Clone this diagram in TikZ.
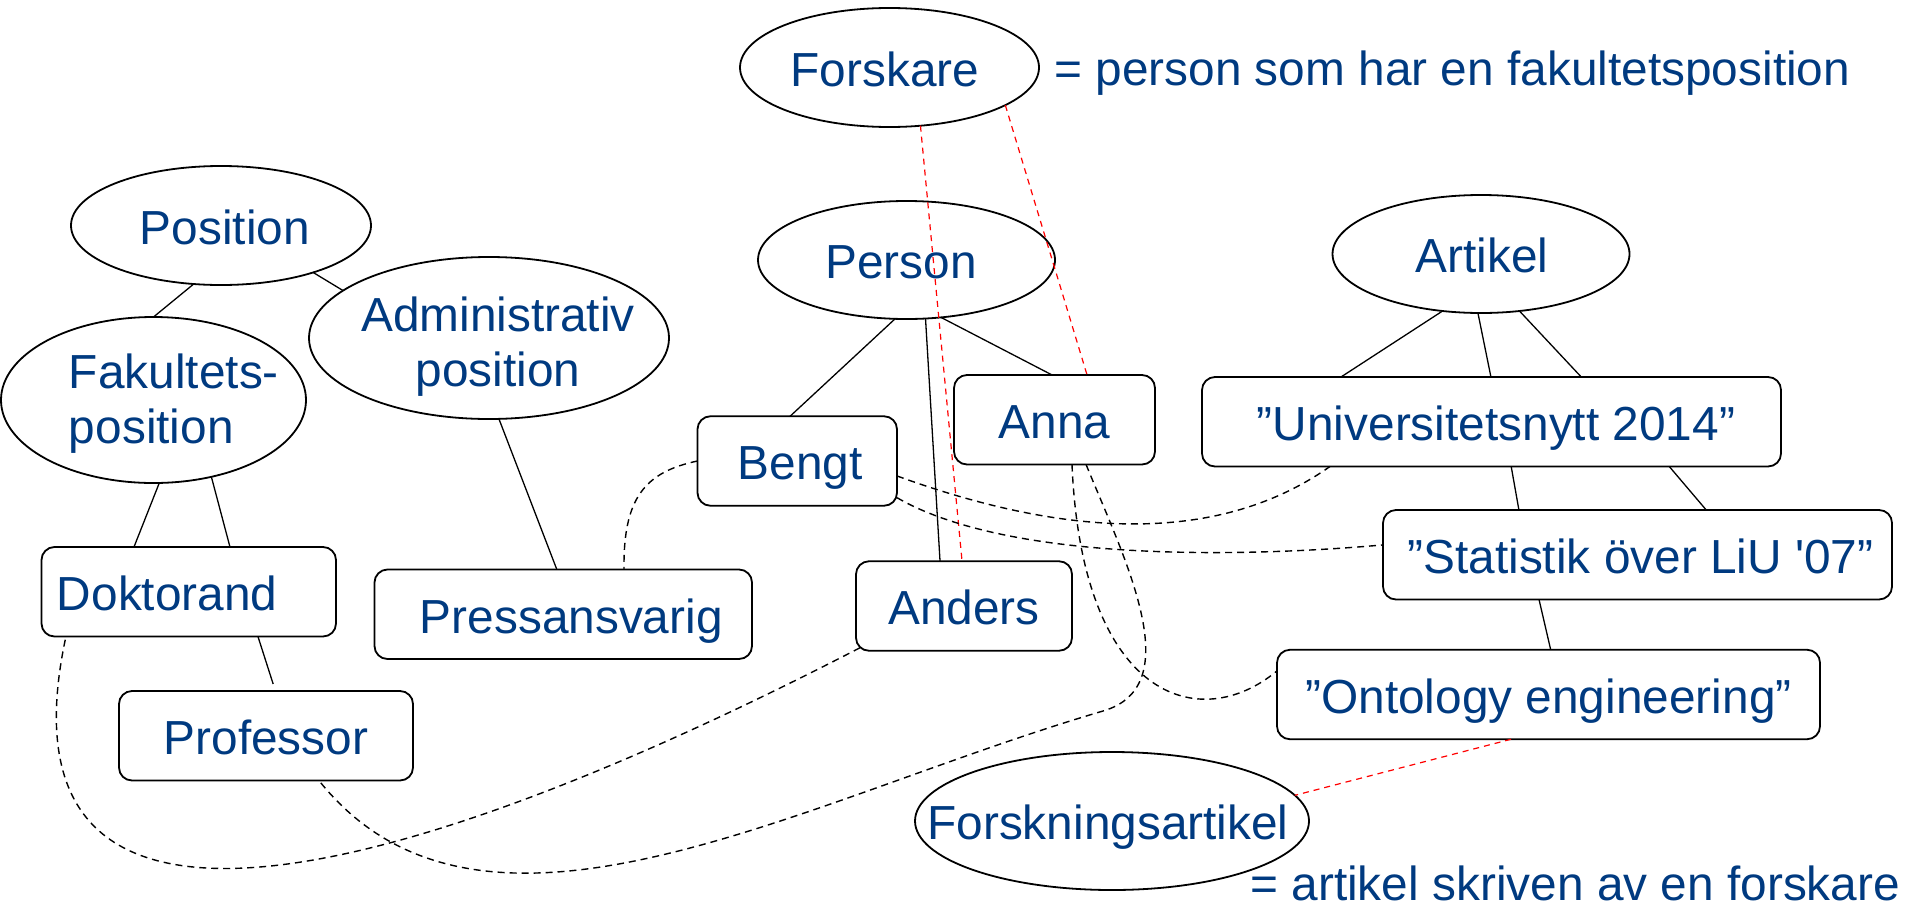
\documentclass[tikz,border=0pt]{standalone}
\usepackage{fontspec}
\setmainfont{Liberation Sans}[Ligatures=TeXOff]
\usetikzlibrary{shapes.geometric,calc}
\definecolor{txtblue}{RGB}{0,58,128}
\newcommand\txtshift[2]{\makebox[0pt]{\hspace*{#1pt}#2}}
\newcommand\bigfont{\fontsize{23.9pt}{27.5pt}\selectfont}
\begin{document}
\begin{tikzpicture}[x=0.5pt,y=-0.5pt,
  ell/.style={draw, ellipse, line width=0.9pt, inner sep=0pt, outer sep=0pt, text=txtblue, font=\bigfont, text height=22.8pt, text depth=4pt},
  rbox/.style={draw, rounded corners=6.5pt, line width=0.9pt, inner sep=0pt, outer sep=0pt, text=txtblue, font=\bigfont, text height=22.8pt, text depth=4pt, minimum height=44.75pt},
  conn/.style={line width=0.65pt},
  bdash/.style={line width=0.7pt, dash pattern=on 3.5pt off 2.5pt},
  rdash/.style={red, line width=0.6pt, dash pattern=on 3pt off 2.5pt},
  note/.style={text=txtblue, font=\bigfont, inner sep=0pt, anchor=base west}]
\useasboundingbox (0,0) rectangle (1909,910);

% ellipses
\node[ell, minimum width=149.5pt, minimum height=59.5pt] (forskare) at (889.5,67.5) {\txtshift{-4.5}{Forskare}};
\node[ell, minimum width=150pt, minimum height=59.5pt] (position) at (221,225.5) {\txtshift{4}{Position}};
\node[ell, minimum width=148.5pt, minimum height=59pt] (person) at (906.5,260) {\txtshift{-5.5}{Person}};
\node[ell, minimum width=148.5pt, minimum height=59pt] (artikel) at (1481,254) {\txtshift{1}{Artikel}};
\node[ell, minimum width=152.5pt, minimum height=83pt, text height=20pt, text depth=31.7pt] (fak) at (153.5,400) {\txtshift{20.4}{\begin{tabular}[t]{@{}l@{}}Fakultets-\\position\end{tabular}}};
\node[ell, minimum width=180pt, minimum height=81pt, text height=20pt, text depth=26.7pt] (admin) at (489,338) {\txtshift{9}{\begin{tabular}[t]{@{}c@{}}Administrativ\\position\end{tabular}}};
\node[ell, minimum width=197pt, minimum height=69pt] (forskn) at (1112,821) {\txtshift{-4}{Forskningsartikel}};

% boxes
\node[rbox, minimum width=147.25pt] (dokt) at (188.75,591.75) {\txtshift{-21.5}{Doktorand}};
\node[rbox, minimum width=188.75pt] (press) at (563.25,614.25) {\txtshift{8}{Pressansvarig}};
\node[rbox, minimum width=147pt] (prof) at (266,735.75) {Professor};
\node[rbox, minimum width=99.75pt] (bengt) at (797.25,461) {\txtshift{3}{Bengt}};
\node[rbox, minimum width=100.5pt] (anna) at (1054.5,419.75) {Anna};
\node[rbox, minimum width=108pt] (anders) at (964,606) {Anders};
\node[rbox, minimum width=289.5pt] (univ) at (1491.5,421.75) {\txtshift{4.5}{”Universitetsnytt 2014”}};
\node[rbox, minimum width=254.5pt] (stat) at (1637.5,554.75) {\txtshift{3}{”Statistik över LiU '07”}};
\node[rbox, minimum width=271.5pt] (onto) at (1548.5,694.5) {”Ontology engineering”};

% definitions
\node[note] (def1) at (1054,85) {= person som har en fakultetsposition};
\node[note] (def2) at (1250,900) {= artikel skriven av en forskare};

% solid connectors
\draw[conn] (position.245) -- (fak.north);
\draw[conn] (position.333) -- (admin.162);
\draw[conn] (fak.274) -- ($(dokt.north west)!0.314!(dokt.north east)$);
\draw[conn] (fak.307) -- ($(dokt.north west)!0.640!(dokt.north east)$);
\draw[conn, shorten >=3.7pt] ($(dokt.south west)!0.735!(dokt.south east)$) -- ($(prof.north west)!0.532!(prof.north east)$);
\draw[conn] (admin.277) -- ($(press.north west)!0.483!(press.north east)$);
\draw[conn] (person.259) -- ($(bengt.north west)!0.464!(bengt.north east)$);
\draw[conn] (person.288) -- ($(anders.north west)!0.389!(anders.north east)$);
\draw[conn] (person.301) -- ($(anna.north west)!0.488!(anna.north east)$);
\draw[conn] (artikel.236) -- ($(univ.north west)!0.240!(univ.north east)$);
\draw[conn] (artikel.267) -- ($(univ.north west)!0.499!(univ.north east)$);
\draw[conn] (artikel.304) -- ($(univ.north west)!0.655!(univ.north east)$);
\draw[conn] ($(univ.south west)!0.534!(univ.south east)$) -- ($(stat.north west)!0.267!(stat.north east)$);
\draw[conn] ($(univ.south west)!0.807!(univ.south east)$) -- ($(stat.north west)!0.635!(stat.north east)$);
\draw[conn] ($(stat.south west)!0.3065!(stat.south east)$) -- ($(onto.north west)!0.504!(onto.north east)$);

% red dashed
\draw[rdash] (forskare.298) -- ($(anders.north west)!0.491!(anders.north east)$);
\draw[rdash] (forskare.342) -- ($(anna.north west)!0.662!(anna.north east)$);
\draw[rdash] ($(onto.south west)!0.431!(onto.south east)$) -- (forskn.8);

% black dashed curves
\coordinate (bendA) at (1103,711);
\draw[bdash] (bengt.west) .. controls (645,472) and (623,498) .. ($(press.north west)!0.661!(press.north east)$);
\draw[bdash] ($(bengt.north east)!0.667!(bengt.south east)$) .. controls (1040,528) and (1205,554.5) .. ($(univ.south west)!0.221!(univ.south east)$);
\draw[bdash] ($(bengt.north east)!0.91!(bengt.south east)$) .. controls (1010,563) and (1247,557) .. ($(stat.north west)!0.39!(stat.south west)$);
\draw[bdash] ($(anna.south west)!0.587!(anna.south east)$) .. controls (1082,700) and (1200,735) .. ($(onto.north west)!0.236!(onto.south west)$);
\draw[bdash] ($(anna.south west)!0.657!(anna.south east)$) .. controls (1125,560) and (1189,686) .. (bendA) .. controls (800,800) and (482,985) .. ($(prof.south west)!0.680!(prof.south east)$);
\draw[bdash] ($(anders.south west)+(4,-3)$) .. controls (430,870) and (-15,1011) .. ($(dokt.south west)!0.083!(dokt.south east)$);
\end{tikzpicture}
\end{document}
